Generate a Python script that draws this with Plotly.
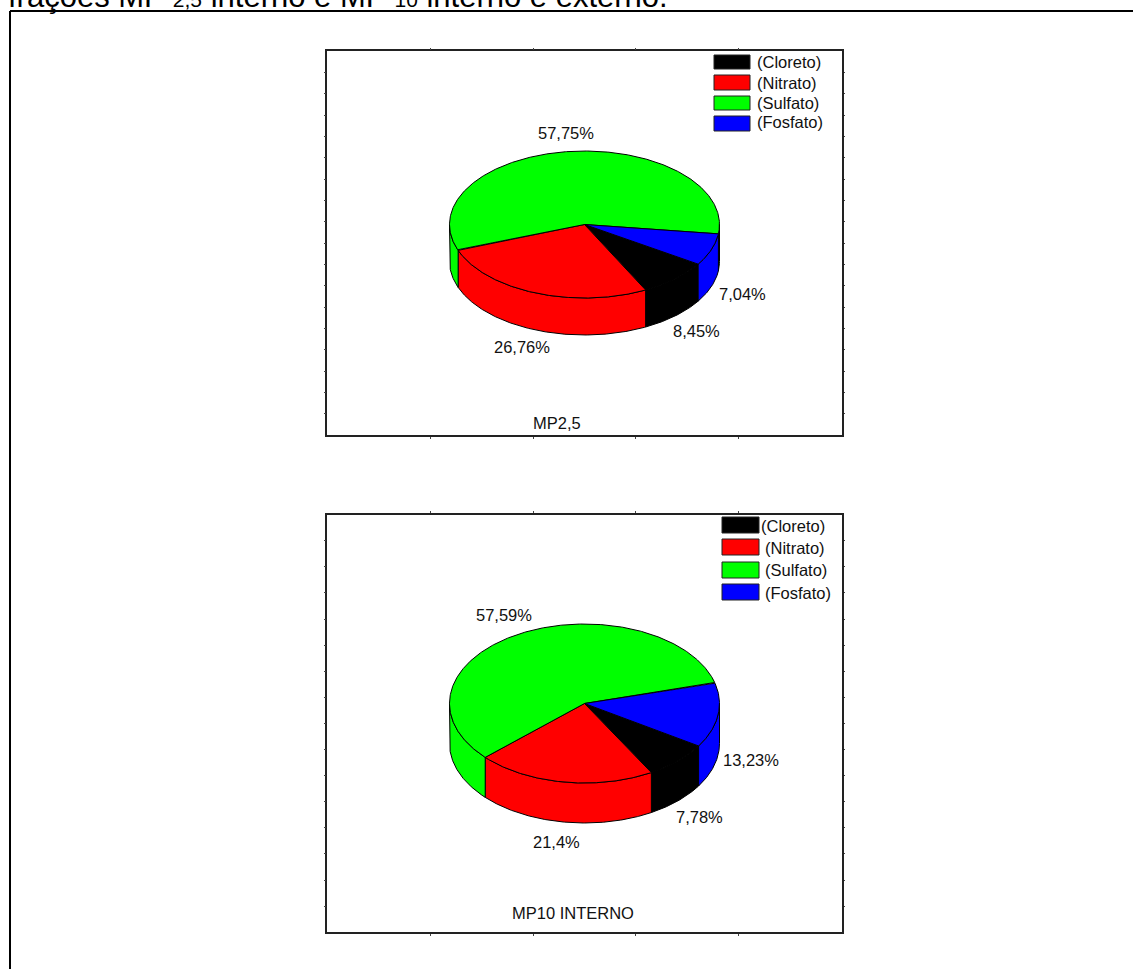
import numpy as np
import plotly.graph_objects as go

PAGE_W, PAGE_H = 1133, 969

categories = ["(Cloreto)", "(Nitrato)", "(Sulfato)", "(Fosfato)"]
colors = ["#000000", "#FF0000", "#00FF00", "#0000FF"]

mp25_values = [8.45, 26.76, 57.75, 7.04]
mp25_labels = ["8,45%", "26,76%", "57,75%", "7,04%"]
mp10_values = [7.78, 21.4, 57.59, 13.23]
mp10_labels = ["7,78%", "21,4%", "57,59%", "13,23%"]

FONT = "Liberation Sans, Arial, sans-serif"
FONT_SIZE = 16.5

panels = [
    dict(axis="", left=327.3, right=841.7, top=51.3, bottom=435.3, ydiv=18,
         cx=584.5, cy=224.5, rx=135, ry=73.5, depth=37, start=32.65,
         values=mp25_values, labels=mp25_labels, title="MP2,5",
         title_pos=(557, 423),
         label_pos=[(696, 331), (522, 347), (566, 133), (742, 294)],
         swatch_x=(714, 750), swatch_y=[(55, 69), (75, 90), (96, 110), (116, 131)],
         legend_x=[755, 755, 755, 755], legend_y=[62, 83, 103, 122]),
    dict(axis="2", left=327.3, right=841.7, top=514.6, bottom=932.3, ydiv=16,
         cx=584.5, cy=703.5, rx=135, ry=79.5, depth=40, start=32.3,
         values=mp10_values, labels=mp10_labels, title="MP10 INTERNO",
         title_pos=(573, 913),
         label_pos=[(699, 817), (556, 842), (504, 615), (751, 760)],
         swatch_x=(722, 759), swatch_y=[(517, 533), (539, 555), (562, 578), (584, 600)],
         legend_x=[759, 763, 763, 763], legend_y=[526, 548, 570, 593]),
]


def paper_x(px):
    return px / PAGE_W


def paper_y(py):
    return 1 - py / PAGE_H


def arc(p, a0, a1, lift=0.0):
    """Points of the pie rim between two angles, in panel coordinates."""
    t = np.radians(np.linspace(a0, a1, max(int(abs(a1 - a0) * 2), 2)))
    x = p["cx"] - p["left"] + p["rx"] * np.cos(t)
    y = p["cy"] - p["top"] + p["ry"] * np.sin(t) + lift
    return x, y


fig = go.Figure()
shapes = []
annotations = []

for p in panels:
    xref, yref = f"x{p['axis']}", f"y{p['axis']}"
    # Cumulative slice angles, clockwise on screen
    sweeps = np.array(p["values"]) / sum(p["values"]) * 360
    edges = p["start"] + np.concatenate([[0], np.cumsum(sweeps)])

    def add_poly(x, y, color, name):
        fig.add_trace(go.Scatter(
            x=x, y=y, mode="lines", fill="toself", fillcolor=color,
            line=dict(color="#000000", width=1), xaxis=xref, yaxis=yref,
            showlegend=False, name=name, hoverinfo="name"))

    # Side wall: only the front half of the rim is visible
    for i, color in enumerate(colors):
        for lo, hi in ((0, 180), (360, 540)):
            a0, a1 = max(edges[i], lo), min(edges[i + 1], hi)
            if a1 > a0:
                xt, yt = arc(p, a0, a1)
                xb, yb = arc(p, a0, a1, p["depth"])
                add_poly(np.r_[xt, xb[::-1], xt[0]], np.r_[yt, yb[::-1], yt[0]],
                         color, categories[i])

    # Top face of each slice
    ox, oy = p["cx"] - p["left"], p["cy"] - p["top"]
    for i, color in enumerate(colors):
        xt, yt = arc(p, edges[i], edges[i + 1])
        add_poly(np.r_[ox, xt, ox], np.r_[oy, yt, oy], color, categories[i])

    for label, (lx, ly) in zip(p["labels"], p["label_pos"]):
        annotations.append(dict(text=label, x=paper_x(lx), y=paper_y(ly)))
    annotations.append(dict(text=p["title"], x=paper_x(p["title_pos"][0]),
                            y=paper_y(p["title_pos"][1])))

    # Legend swatches and names
    for i, name in enumerate(categories):
        y0, y1 = p["swatch_y"][i]
        shapes.append(dict(type="rect", xref="paper", yref="paper",
                           x0=paper_x(p["swatch_x"][0]), x1=paper_x(p["swatch_x"][1]),
                           y0=paper_y(y1), y1=paper_y(y0), fillcolor=colors[i],
                           line=dict(color="#222222", width=1)))
        annotations.append(dict(text=name, x=paper_x(p["legend_x"][i]),
                                y=paper_y(p["legend_y"][i]), xanchor="left"))

    w, h = p["right"] - p["left"], p["bottom"] - p["top"]
    axis_style = dict(showgrid=False, zeroline=False, showticklabels=False,
                      showline=True, linecolor="#222222", linewidth=1.6,
                      mirror="ticks", ticks="outside", ticklen=1.5, tickwidth=1,
                      tickcolor="#444444", fixedrange=True)
    fig.update_layout({
        f"xaxis{p['axis']}": dict(domain=[paper_x(p["left"]), paper_x(p["right"])],
                                  range=[0, w], anchor=yref,
                                  tickvals=np.linspace(0, w, 6)[1:-1].tolist(),
                                  **axis_style),
        f"yaxis{p['axis']}": dict(domain=[paper_y(p["bottom"]), paper_y(p["top"])],
                                  range=[h, 0], anchor=xref,
                                  tickvals=np.linspace(0, h, p["ydiv"] + 1)[1:-1].tolist(),
                                  **axis_style),
    })

for a in annotations:
    a.update(xref="paper", yref="paper", showarrow=False,
             font=dict(family=FONT, size=FONT_SIZE, color="#111111"))
    a.setdefault("xanchor", "center")
    a.setdefault("yanchor", "middle")

# Caption running off the top of the page, above the enclosing frame
small = '<span style="font-size:21px">'
annotations.append(dict(
    text=f"frações MP {small}2,5</span> interno e MP {small}10</span> interno e externo.",
    xref="paper", yref="paper", x=paper_x(6), y=paper_y(16),
    xanchor="left", yanchor="bottom", showarrow=False,
    font=dict(family=FONT, size=31, color="#000000")))

# Enclosing frame: open at the right and along the bottom of the page
frame = dict(color="#000000", width=2)
shapes.append(dict(type="line", xref="paper", yref="paper", x0=paper_x(10), x1=1,
                   y0=paper_y(11), y1=paper_y(11), line=frame))
shapes.append(dict(type="line", xref="paper", yref="paper", x0=paper_x(10), x1=paper_x(10),
                   y0=paper_y(11), y1=0, line=frame))

fig.update_layout(width=PAGE_W, height=PAGE_H, margin=dict(l=0, r=0, t=0, b=0),
                  paper_bgcolor="#FFFFFF", plot_bgcolor="#FFFFFF",
                  showlegend=False, shapes=shapes, annotations=annotations)

fig.write_html("out.html")
